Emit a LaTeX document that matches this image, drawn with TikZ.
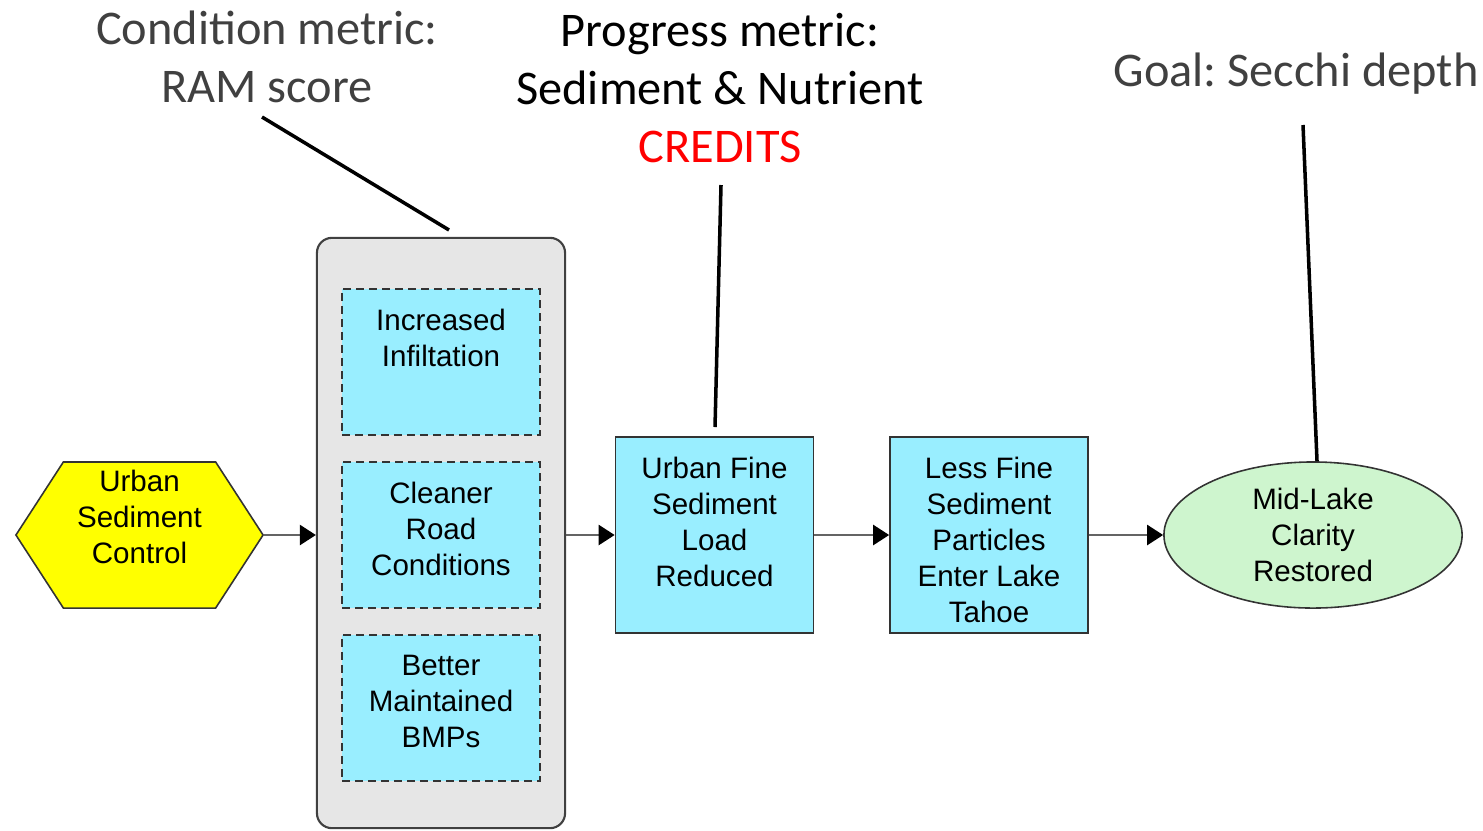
\documentclass[tikz,border=0pt]{standalone}
\usepackage{fontspec}
\setmainfont{Liberation Sans}
\newfontfamily\calfont{Carlito}
\usetikzlibrary{positioning,shapes.geometric,shapes.symbols,arrows.meta}
\definecolor{hexyellow}{RGB}{255,255,0}
\definecolor{boxcyan}{RGB}{153,238,255}
\definecolor{grouptint}{RGB}{230,230,230}
\definecolor{goalgreen}{RGB}{206,245,206}
\definecolor{labelgray}{RGB}{64,64,64}
\definecolor{linkgray}{RGB}{100,100,100}
\definecolor{credred}{RGB}{255,0,0}
\tikzset{>={Triangle[length=1.6mm,width=2.0mm,color=black]}}
\frenchspacing

\begin{document}
\begin{tikzpicture}[x=0.01cm,y=-0.01cm]
          \tikzstyle{bnode} = [draw=black!80, fill=boxcyan, line width=0.45pt, minimum width=1.98cm, minimum height=1.96cm]
          \tikzstyle{dnode} = [draw=black!80, fill=boxcyan, line width=0.45pt, dash pattern=on 2.3pt off 1.4pt, minimum width=1.98cm, minimum height=1.46cm]
          \tikzstyle{tnode} = [inner sep=0pt, align=center, font=\fontsize{8.4}{10.25}\selectfont]
          \tikzstyle{mnode} = [inner sep=0pt, align=center, font=\calfont\fontsize{13.75}{16.5}\selectfont]
          \tikzstyle{link} = [->, draw=linkgray, line width=0.7pt]
          \tikzstyle{lead} = [line width=1pt]
          \useasboundingbox (0,0) rectangle (1483,830);

          \node[signal, signal to=west and east, signal pointer angle=114, draw=black!80, fill=hexyellow, line width=0.45pt, minimum width=2.47cm, minimum height=1.46cm, inner sep=0pt] (ctrl) at (139.5,535) {};
          \node[tnode, below = 0.08cm of ctrl.north] (ctrltxt) {Urban\\Sediment\\Control};

          \node[draw=black!75, fill=grouptint, rounded corners=0.15cm, line width=0.6pt, minimum width=2.48cm, minimum height=5.9cm] (grp) at (441,533) {};
          \node[dnode] (infil) at (441,362) {};
          \node[tnode, below = 0.2cm of infil.north] (infiltxt) {Increased\\Infiltation};
          \node[dnode] (road) at (441,535) {};
          \node[tnode, below = 0.2cm of road.north] (roadtxt) {Cleaner\\Road\\Conditions};
          \node[dnode] (bmps) at (441,708) {};
          \node[tnode, below = 0.2cm of bmps.north] (bmpstxt) {Better\\Maintained\\BMPs};

          \node[bnode] (load) at (714.5,535) {};
          \node[tnode, below = 0.2cm of load.north] (loadtxt) {Urban Fine\\Sediment\\Load\\Reduced};
          \node[bnode] (enter) at (989,535) {};
          \node[tnode, below = 0.2cm of enter.north] (entertxt) {Less Fine\\Sediment\\Particles\\Enter Lake\\Tahoe};

          \node[ellipse, draw=black!80, fill=goalgreen, line width=0.45pt, minimum width=2.98cm, minimum height=1.46cm, inner sep=0pt, align=center, font=\fontsize{8.4}{10.25}\selectfont] (goal) at (1313,535) {Mid-Lake\\Clarity\\Restored};

          \draw[link] (ctrl.east) -- (ctrl.east -| grp.west);
          \draw[link] (grp.east |- load) -- (load);
          \draw[link] (load) -- (enter);
          \draw[link] (enter) -- (goal);

          % metrics above the chain
          \node[mnode, text=labelgray] (cond) at (267,57) {Condition metric:\\RAM score};
          \node[mnode] (prog) at (720,88) {Progress metric:\\Sediment \& Nutrient\\\textcolor{credred}{CREDITS}};
          \node[mnode, text=labelgray] (secchi) at (1296,74) {Goal: Secchi depth};

          \coordinate (condfrom) at (262,117);
          \coordinate (condto) at (449,230);
          \coordinate (progfrom) at (721,185);
          \coordinate (progto) at (715,427);
          \coordinate (secchifrom) at (1303,125);
          \draw[lead] (condfrom) -- (condto);
          \draw[lead] (progfrom) -- (progto);
          \draw[lead] (secchifrom) -- (goal.north -| 1317,0);
        \end{tikzpicture}
\end{document}
